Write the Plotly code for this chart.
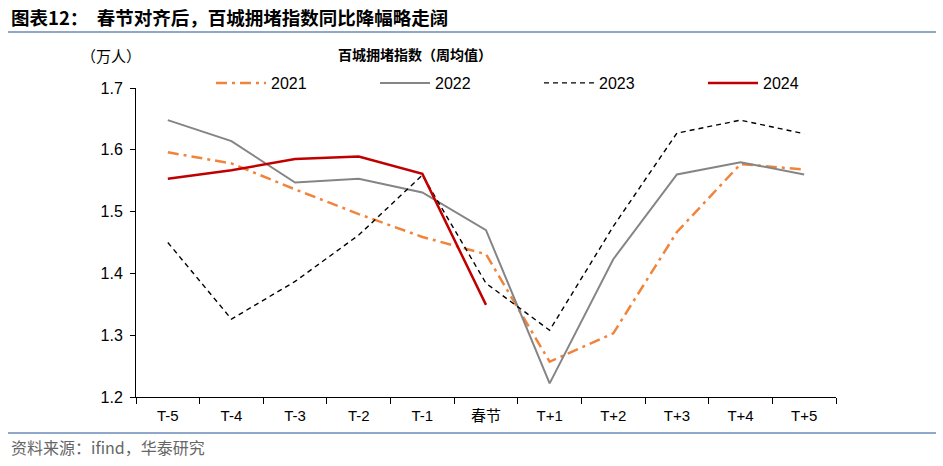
import plotly.graph_objects as go

categories = ["T-5", "T-4", "T-3", "T-2", "T-1", "春节", "T+1", "T+2", "T+3", "T+4", "T+5"]
s2021 = [1.596, 1.578, 1.536, 1.496, 1.459, 1.431, 1.257, 1.303, 1.467, 1.577, 1.568]
s2022 = [1.648, 1.614, 1.547, 1.553, 1.531, 1.470, 1.222, 1.423, 1.560, 1.580, 1.560]
s2023 = [1.450, 1.326, 1.387, 1.462, 1.559, 1.384, 1.308, 1.476, 1.627, 1.648, 1.626]
s2024 = [1.553, 1.567, 1.585, 1.589, 1.561, 1.349]
y_ticks = [1.2, 1.3, 1.4, 1.5, 1.6, 1.7]

W, H = 943, 466
L, R, T, B = 136, 107, 88, 69
PW, PH = W - L - R, H - T - B

def px(x):
    return (x - L) / PW

def py(y):
    return 1 - (y - T) / PH

fig = go.Figure()
fig.add_trace(go.Scatter(x=categories, y=s2021, name="2021", mode="lines",
                         line=dict(color="#F0843C", width=2.5, dash="11px,5px,3px,5px")))
fig.add_trace(go.Scatter(x=categories, y=s2022, name="2022", mode="lines",
                         line=dict(color="#858585", width=2)))
fig.add_trace(go.Scatter(x=categories, y=s2023, name="2023", mode="lines",
                         line=dict(color="#000000", width=1.4, dash="5px,4px")))
fig.add_trace(go.Scatter(x=categories[:len(s2024)], y=s2024, name="2024", mode="lines",
                         line=dict(color="#C00000", width=2.5)))

fig.update_layout(
    width=W, height=H,
    margin=dict(l=L, r=R, t=T, b=B, autoexpand=False),
    paper_bgcolor="white", plot_bgcolor="white",
    font=dict(family="Liberation Sans, Arial, Noto Sans CJK SC", size=14, color="#000"),
    showlegend=True,
    legend=dict(orientation="h", xref="paper", yref="paper",
                x=px(211), y=py(66), xanchor="left", yanchor="top",
                entrywidth=99, entrywidthmode="pixels", itemwidth=50,
                font=dict(size=16, family="Liberation Sans, Arial"),
                bgcolor="rgba(0,0,0,0)"),
    xaxis=dict(type="category", categoryorder="array", categoryarray=categories,
               range=[-0.5, len(categories) - 0.5],
               showline=True, linecolor="#000", linewidth=1,
               ticks="outside", ticklen=6, tickcolor="#000", tickson="boundaries",
               showgrid=False, zeroline=False, ticklabelstandoff=5,
               tickfont=dict(size=15, family="Liberation Sans, Arial, Noto Sans CJK SC")),
    yaxis=dict(range=[1.2, 1.7], tickvals=y_ticks, ticktext=[f"{v:.1f}" for v in y_ticks],
               showline=True, linecolor="#000", linewidth=1,
               ticks="outside", ticklen=5, tickcolor="#000",
               showgrid=False, zeroline=False, ticklabelstandoff=4,
               tickfont=dict(size=16, family="Liberation Sans, Arial")),
)

fig.add_annotation(text="<b>图表12：  春节对齐后，百城拥堵指数同比降幅略走阔</b>",
                   xref="paper", yref="paper", x=px(9), y=py(17),
                   xanchor="left", yanchor="middle",
                   showarrow=False, font=dict(size=18.5, family="Noto Sans CJK SC", color="#000"))
fig.add_annotation(text="<b>百城拥堵指数（周均值）</b>", xref="paper", yref="paper",
                   x=px(415), y=py(54),
                   xanchor="center", yanchor="middle", showarrow=False,
                   font=dict(size=14, family="Noto Sans CJK SC", color="#000"))
fig.add_annotation(text="（万人）", xref="paper", yref="paper",
                   x=px(111), y=py(56),
                   xanchor="center", yanchor="middle", showarrow=False,
                   font=dict(size=15, family="Noto Sans CJK SC", color="#000"))
fig.add_annotation(text="资料来源：ifind，华泰研究", xref="paper", yref="paper",
                   x=px(9), y=py(447),
                   xanchor="left", yanchor="middle", showarrow=False,
                   font=dict(size=16, family="Noto Sans CJK SC", color="#666"))

for yy in (32, 433):
    fig.add_shape(type="line", xref="paper", yref="paper",
                  x0=px(8), x1=px(936), y0=py(yy), y1=py(yy),
                  line=dict(color="#8FA8C8", width=2))

fig.write_html("out.html")
